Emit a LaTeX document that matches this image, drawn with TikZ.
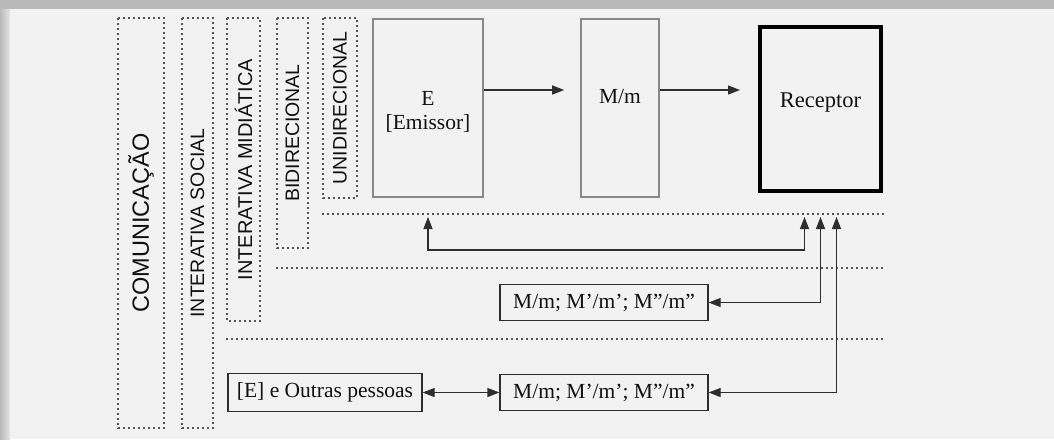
\documentclass[tikz,border=0pt]{standalone}
\usepackage{fontspec}
\setmainfont{Liberation Serif}
\newfontfamily\colfont{Liberation Sans}
\usetikzlibrary{arrows.meta,positioning}
\definecolor{dgInk}{HTML}{111111}
\definecolor{dgLine}{HTML}{2E2E2E}
\definecolor{dgDot}{HTML}{555555}
\definecolor{dgEdge}{HTML}{888888}
\definecolor{dgPaper}{HTML}{F2F2F2}
\definecolor{dgShade}{HTML}{B9B9B9}
\newcommand{\txtsize}{\fontsize{21.5}{24}\selectfont}
\tikzset{
  col/.style      ={draw=dgDot,line width=1.2pt,dash pattern=on 2pt off 3pt,
                    rotate=90,inner sep=0pt,text=dgInk},
  sep/.style      ={draw=dgDot,line width=1.2pt,dash pattern=on 2pt off 3pt},
  box/.style      ={draw=dgEdge,line width=1.6pt,fill=dgPaper,inner sep=0pt},
  recbox/.style   ={box,draw=black,line width=4pt},
  smallbox/.style ={draw=dgLine,line width=1.2pt,fill=dgPaper,minimum height=36pt,
                    inner xsep=5pt,font=\txtsize,text=dgInk},
  txt/.style      ={font=\txtsize,text=dgInk},
  flow/.style     ={-{Triangle[length=12pt,width=9pt]},dgLine,line width=1.2pt},
  both/.style     ={{Triangle[length=12pt,width=9pt]}-{Triangle[length=12pt,width=9pt]},
                    dgLine,line width=1.2pt},
}

\begin{document}
\begin{tikzpicture}[x=1pt,y=-1pt]
\useasboundingbox (0,0) rectangle (1054,439);
% paper and frame shadow
\fill[dgShade] (0,0) rectangle (1054,439);
\shade[left color=dgShade,right color=dgPaper!80!dgShade] (0,9) rectangle (10,439);
\fill[dgPaper] (10,9) rectangle (1054,439);

% nested levels, one dotted column each
\foreach \nm/\xl/\xr/\yb/\fs/\txt in {
  comunic/118/164/428/23.5/COMUNICAÇÃO,
  social/182/213/428/19.5/INTERATIVA SOCIAL,
  midia/227/260/321/20/INTERATIVA MIDIÁTICA,
  bidir/277/308/248/19.5/BIDIRECIONAL,
  unidir/323/357/198/19.5/UNIDIRECIONAL}
{
  \node[col,minimum width={\yb-18},minimum height={\xr-\xl},
        font=\colfont\fontsize{\fs}{\fs}\selectfont]
    (\nm) at ({(\xl+\xr)/2},{(18+\yb)/2}) {\txt};
}
\coordinate (rim) at (885,0);
\draw[sep] (unidir.north west |- 0,214) -- (rim |- 0,214);
\draw[sep] (bidir.north west |- 0,268) -- (rim |- 0,268);
\draw[sep] (midia.north west |- 0,339) -- (rim |- 0,339);

% main chain
\node[box,minimum width=110pt,minimum height=178pt] (emissor) at (428,108) {};
\node[box,minimum width=78pt,minimum height=178pt] (msg) at (620,108) {};
\node[recbox,minimum width=121pt,minimum height=164pt] (receptor) at (820.5,109) {};
\node[txt,align=center] at (428,112) {E\\{[}Emissor]};
\node[txt] at (620,97) {M/m};
\node[txt,font=\fontsize{22.5}{24}\selectfont] at (820.5,103) {Receptor};

% media boxes
\node[smallbox,minimum width=208pt] (media1) at (604,302.5) {M/m; M'/m'; M''/m''};
\node[smallbox,minimum width=208pt] (media2) at (604,392.5) {M/m; M'/m'; M''/m''};
\node[smallbox,minimum width=194pt,minimum height=38pt] (outros) at (325,392.5)
  {{[}E] e Outras pessoas};

% connectors
\coordinate (rowE) at (0,90);
\coordinate (tips) at (0,217);
\coordinate (r1) at ([xshift=-16pt]receptor.south);
\coordinate (r3) at ([xshift=16pt]receptor.south);
\draw[flow,shorten >=16pt] (emissor.east |- rowE) -- (msg.west |- rowE);
\draw[flow,shorten >=18pt] (msg.east |- rowE) -- (receptor.west |- rowE);
\draw[both] (emissor.south |- tips) -- ++(0,33) -| (r1 |- tips);
\draw[both] (receptor.south |- tips) |- (media1.east);
\draw[both] (r3 |- tips) |- (media2.east);
\draw[both] (outros.east) -- (media2.west);
\end{tikzpicture}
\end{document}
